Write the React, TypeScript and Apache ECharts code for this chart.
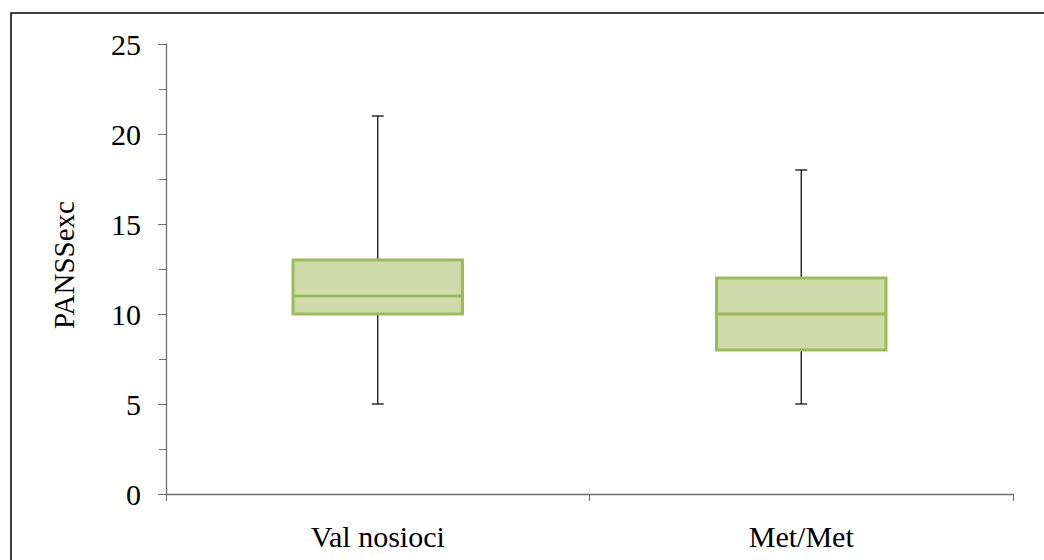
import React, { useEffect, useRef } from "react";
import * as echarts from "echarts";

const categories = ["Val nosioci", "Met/Met"];
const minValues = [5, 5];
const q1Values = [10, 8];
const medianValues = [11, 10];
const q3Values = [13, 12];
const maxValues = [21, 18];
const yAxisName = "PANSSexc";

const FONT = "'Liberation Serif', 'Times New Roman', serif";

export default function App() {
  const ref = useRef<HTMLDivElement>(null);
  useEffect(() => {
    if (!ref.current) return;
    const chart = echarts.init(ref.current, null, { renderer: "svg" });
    const data = categories.map((_, i) => [
      i,
      minValues[i],
      q1Values[i],
      medianValues[i],
      q3Values[i],
      maxValues[i],
    ]);
    chart.setOption({
      animation: false,
      backgroundColor: "#ffffff",
      textStyle: { fontFamily: FONT },
      grid: { left: 166, right: 31, top: 44, bottom: 66 },
      xAxis: {
        type: "category",
        data: categories,
        axisLine: { lineStyle: { color: "#707070", width: 1.3 } },
        axisTick: { show: true, length: 7, lineStyle: { color: "#707070", width: 1 } },
        axisLabel: { color: "#000", fontSize: 30, fontFamily: FONT, margin: 27 },
        splitLine: { show: false },
      },
      yAxis: {
        type: "value",
        min: 0,
        max: 25,
        interval: 5,
        name: yAxisName,
        nameLocation: "middle",
        nameRotate: 90,
        nameGap: 88,
        nameTextStyle: { color: "#000", fontSize: 29, fontFamily: FONT, padding: [0, 0, 0, 8] },
        axisLine: { show: true, lineStyle: { color: "#707070", width: 1.3 } },
        axisTick: { show: true, length: 8, lineStyle: { color: "#707070", width: 1 } },
        minorTick: { show: true, splitNumber: 2, length: 7, lineStyle: { color: "#707070", width: 1 } },
        axisLabel: { color: "#000", fontSize: 30, fontFamily: FONT, margin: 25 },
        splitLine: { show: false },
      },
      series: [
        {
          type: "custom",
          data,
          renderItem: (params: any, api: any) => {
            const idx = api.value(0);
            const band = api.size([1, 0])[0];
            const w = band * 0.4;
            const pMin = api.coord([idx, api.value(1)]);
            const pQ1 = api.coord([idx, api.value(2)]);
            const pMed = api.coord([idx, api.value(3)]);
            const pQ3 = api.coord([idx, api.value(4)]);
            const pMax = api.coord([idx, api.value(5)]);
            const cx = pMed[0];
            const cap = 12;
            const wStyle = { stroke: "#111", lineWidth: 1.3 };
            return {
              type: "group",
              children: [
                { type: "line", shape: { x1: cx, y1: pMax[1], x2: cx, y2: pQ3[1] }, style: wStyle },
                { type: "line", shape: { x1: cx, y1: pMin[1], x2: cx, y2: pQ1[1] }, style: wStyle },
                { type: "line", shape: { x1: cx - cap / 2, y1: pMax[1], x2: cx + cap / 2, y2: pMax[1] }, style: wStyle },
                { type: "line", shape: { x1: cx - cap / 2, y1: pMin[1], x2: cx + cap / 2, y2: pMin[1] }, style: wStyle },
                {
                  type: "rect",
                  shape: { x: cx - w / 2, y: pQ3[1], width: w, height: pQ1[1] - pQ3[1] },
                  style: { fill: "#cfdbab", stroke: "#9bbb59", lineWidth: 3 },
                },
                {
                  type: "line",
                  shape: { x1: cx - w / 2, y1: pMed[1], x2: cx + w / 2, y2: pMed[1] },
                  style: { stroke: "#9bbb59", lineWidth: 3 },
                },
              ],
            };
          },
        },
      ],
      graphic: [
        {
          type: "rect",
          shape: { x: 11, y: 13, width: 1200, height: 700 },
          style: { fill: "none", stroke: "#000", lineWidth: 1.5 },
          silent: true,
          z: 100,
        },
      ],
    });
    return () => chart.dispose();
  }, []);
  return (
    <div
      ref={ref}
      style={{ position: "absolute", left: 0, top: 0, width: 1044, height: 560 }}
    />
  );
}
